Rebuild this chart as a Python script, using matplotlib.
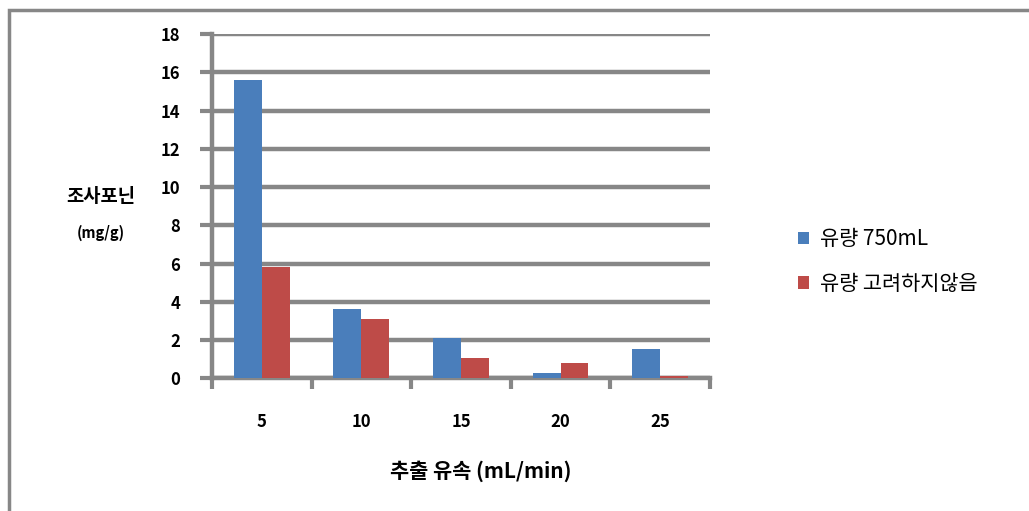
import numpy as np
import matplotlib.pyplot as plt
from matplotlib.patches import Rectangle

plt.rcParams['font.family'] = ['Noto Sans CJK KR', 'DejaVu Sans']

# extraction flow rate (mL/min) and saponin content (mg/g)
flow_rates = ['5', '10', '15', '20', '25']
with_volume = [15.6, 3.6, 2.1, 0.25, 1.5]
no_volume = [5.8, 3.1, 1.05, 0.78, 0.1]
series_names = ['유량 750mL', '유량 고려하지않음']

grid_gray = '#878787'
blue = '#4a7ebb'
red = '#be4b48'

fig = plt.figure(figsize=(10.29, 5.11), dpi=100)
ax = fig.add_axes([0.206, 0.260, 0.484, 0.673])

x = np.arange(len(flow_rates))
w = 0.28
ax.bar(x - w/2, with_volume, w, color=blue, label=series_names[0], zorder=3)
ax.bar(x + w/2, no_volume, w, color=red, label=series_names[1], zorder=3)

ax.set_xlim(-0.5, len(flow_rates) - 0.5)
ax.set_ylim(0, 18)
ax.set_yticks(np.arange(0, 19, 2))
ax.yaxis.grid(True, color=grid_gray, linewidth=3.2, zorder=0)
ax.set_axisbelow(True)

# category ticks sit between the groups
ax.set_xticks(np.arange(-0.5, len(flow_rates), 1))
ax.set_xticklabels([])
ax.set_xticks(x, minor=True)
ax.set_xticklabels(flow_rates, minor=True, fontsize=12, fontweight='bold')
ax.tick_params(axis='x', which='minor', length=0, pad=25)
ax.tick_params(axis='x', which='major', length=8, width=3, color=grid_gray)
ax.tick_params(axis='y', length=9, width=3, color=grid_gray, labelsize=12, pad=14)
for lab in ax.get_yticklabels():
    lab.set_fontweight('bold')

for side in ['top', 'right']:
    ax.spines[side].set_visible(False)
for side in ['left', 'bottom']:
    ax.spines[side].set_color(grid_gray)
    ax.spines[side].set_linewidth(3.2)

fig.text(0.098, 0.615, '조사포닌', fontsize=13.5, fontweight='bold', ha='center', va='center')
fig.text(0.098, 0.545, '(mg/g)', fontsize=10.5, fontweight='bold', ha='center', va='center')
fig.text(0.467, 0.077, '추출 유속 (mL/min)', fontsize=15, fontweight='bold', ha='center', va='center')

ax.legend(loc='center left', bbox_to_anchor=(0.757, 0.488), bbox_transform=fig.transFigure,
          frameon=False, fontsize=15, handlelength=0.55, handleheight=0.55,
          handletextpad=0.5, labelspacing=1.1)

# outer chart border
fig.patches.append(Rectangle((0.009, -0.05), 1.1, 1.03, transform=fig.transFigure,
                             fill=False, edgecolor=grid_gray, linewidth=2.5))

fig.savefig('out.png', dpi=100)
